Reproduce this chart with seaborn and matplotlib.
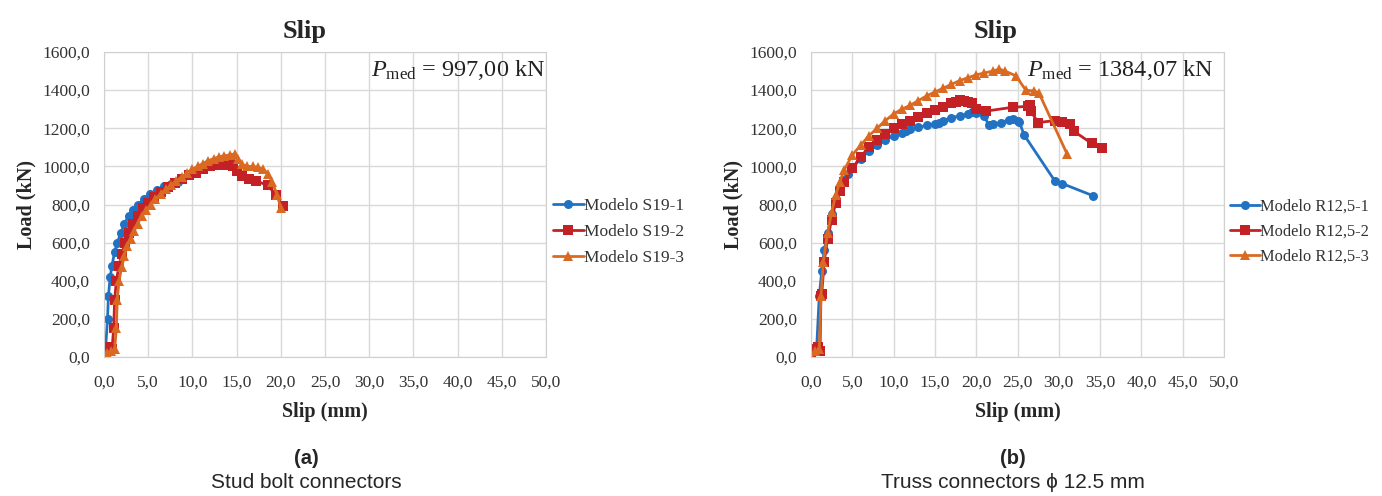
import seaborn as sns
import matplotlib.pyplot as plt
import pandas as pd

# slip (mm) / load (kN)
s19_1_slip = [0.0, 0.2, 0.4, 0.5, 0.7, 0.9, 1.2, 1.5, 1.9, 2.3, 2.8, 3.3, 3.9, 4.5, 5.2, 6.0, 6.8, 7.6, 8.4]
s19_1_load = [0, 60, 200, 320, 420, 480, 550, 600, 650, 700, 740, 770, 800, 830, 855, 875, 895, 910, 920]

s19_2_slip = [0.0, 0.1, 0.5, 0.9, 1.1, 1.2, 1.4, 1.7, 2.0, 2.4, 2.8, 3.3, 3.8, 4.4, 5.0, 5.7, 6.4, 7.2, 8.0,
              8.8, 9.6, 10.4, 11.2, 12.0, 12.8, 13.6, 14.2, 14.6, 15.0, 15.6, 16.4, 17.2, 18.5, 19.5, 20.2]
s19_2_load = [0, 40, 50, 40, 150, 300, 400, 480, 540, 600, 650, 700, 740, 780, 810, 840, 865, 890, 915,
              935, 955, 965, 985, 1000, 1005, 1005, 1010, 1000, 975, 950, 935, 925, 900, 850, 790]

s19_3_slip = [0.0, 0.3, 0.8, 1.2, 1.4, 1.5, 1.7, 2.0, 2.3, 2.6, 3.0, 3.4, 3.8, 4.3, 4.8, 5.3, 5.8, 6.4, 7.0,
              7.6, 8.2, 8.8, 9.4, 10.0, 10.6, 11.2, 11.8, 12.4, 13.0, 13.6, 14.2, 14.8, 15.2, 15.6, 16.2,
              16.8, 17.4, 18.0, 18.6, 19.0, 19.6, 20.0]
s19_3_load = [0, 20, 30, 40, 150, 300, 400, 470, 530, 580, 620, 660, 700, 740, 770, 800, 830, 855, 880,
              900, 925, 945, 965, 985, 1000, 1015, 1030, 1040, 1050, 1055, 1060, 1065, 1040, 1010, 1000,
              1000, 995, 985, 960, 920, 850, 780]

r125_1_slip = [0.0, 0.3, 0.7, 1.0, 1.3, 1.6, 2.0, 2.5, 3.0, 3.5, 4.0, 4.5, 5.0, 6.0, 7.0, 8.0, 9.0, 10.0,
               11.0, 11.5, 12.0, 13.0, 14.0, 15.0, 15.5, 16.0, 17.0, 18.0, 19.0, 19.5, 20.0, 21.0, 21.5,
               22.0, 23.0, 24.0, 24.5, 25.0, 25.2, 25.8, 29.5, 30.4, 34.2]
r125_1_load = [0, 40, 60, 320, 450, 560, 650, 750, 830, 890, 930, 960, 990, 1040, 1080, 1110, 1140, 1160,
               1175, 1185, 1195, 1205, 1215, 1222, 1230, 1240, 1255, 1265, 1275, 1285, 1280, 1265, 1215,
               1220, 1230, 1245, 1250, 1240, 1235, 1165, 925, 910, 845]

r125_2_slip = [0.0, 0.3, 0.8, 1.1, 1.2, 1.3, 1.6, 2.0, 2.5, 3.0, 3.5, 4.0, 5.0, 6.0, 7.0, 8.0, 9.0, 10.0,
               11.0, 12.0, 13.0, 14.0, 15.0, 16.0, 17.0, 17.5, 18.0, 18.5, 19.0, 19.5, 20.0, 21.2, 24.4,
               26.3, 26.5, 26.6, 27.5, 29.5, 30.4, 31.3, 31.8, 34.0, 35.2]
r125_2_load = [0, 40, 50, 30, 320, 330, 500, 620, 720, 810, 870, 920, 990, 1050, 1100, 1140, 1170, 1200,
               1220, 1240, 1260, 1280, 1295, 1310, 1330, 1340, 1350, 1345, 1340, 1330, 1300, 1290, 1310,
               1315, 1320, 1290, 1230, 1240, 1235, 1220, 1185, 1120, 1095]

r125_3_slip = [0.0, 0.5, 1.0, 1.2, 1.5, 2.0, 2.5, 3.0, 3.5, 4.0, 5.0, 6.0, 7.0, 8.0, 9.0, 10.0, 11.0, 12.0,
               13.0, 14.0, 15.0, 16.0, 17.0, 18.0, 19.0, 20.0, 21.0, 22.0, 22.8, 23.5, 24.8, 26.0, 27.0,
               27.6, 31.0]
r125_3_load = [0, 30, 40, 320, 500, 650, 760, 850, 920, 980, 1060, 1110, 1160, 1200, 1240, 1275, 1300,
               1320, 1345, 1370, 1390, 1410, 1430, 1450, 1465, 1480, 1490, 1500, 1510, 1500, 1475, 1400,
               1395, 1385, 1065]

left_names = ["Modelo S19-1", "Modelo S19-2", "Modelo S19-3"]
right_names = ["Modelo R12,5-1", "Modelo R12,5-2", "Modelo R12,5-3"]
colors = ["#2272C3", "#C42127", "#DA6A22"]
x_ticks = list(range(0, 55, 5))
y_ticks = list(range(0, 1800, 200))


def long_table(names, series):
    parts = []
    for name, (xs, ys) in zip(names, series):
        parts.append(pd.DataFrame({"slip": xs, "load": ys, "model": name}))
    return pd.concat(parts, ignore_index=True)


left_df = long_table(left_names, [(s19_1_slip, s19_1_load), (s19_2_slip, s19_2_load), (s19_3_slip, s19_3_load)])
right_df = long_table(right_names, [(r125_1_slip, r125_1_load), (r125_2_slip, r125_2_load), (r125_3_slip, r125_3_load)])

sns.set_style("whitegrid")
plt.rcParams["font.family"] = ["Liberation Serif", "DejaVu Serif"]
plt.rcParams["mathtext.fontset"] = "custom"
plt.rcParams["mathtext.rm"] = "Liberation Serif"
plt.rcParams["mathtext.it"] = "Liberation Serif:italic"

W, H = 1382, 496
fig = plt.figure(figsize=(13.82, 4.96), dpi=100)
ax1 = fig.add_axes([104 / W, 1 - 357 / H, 442 / W, 305 / H])
ax2 = fig.add_axes([811 / W, 1 - 357 / H, 413 / W, 305 / H])


def draw(ax, df, names, pmed, pmed_x, title_x, leg_size, caption_x, caption_a, caption_b):
    sns.lineplot(data=df, x="slip", y="load", hue="model", style="model", hue_order=names,
                 style_order=names, markers=["o", "s", "^"], dashes=False, sort=False,
                 estimator=None, palette=colors, linewidth=2.0, markersize=6.5,
                 markeredgewidth=0, ax=ax)
    ax.set_xlim(0, 50)
    ax.set_ylim(0, 1600)
    ax.set_xticks(x_ticks)
    ax.set_yticks(y_ticks)
    ax.set_xticklabels([f"{v:.1f}".replace(".", ",") for v in x_ticks], fontsize=12.5, color="#333333")
    ax.set_yticklabels([f"{v:.1f}".replace(".", ",") for v in y_ticks], fontsize=12.5, color="#333333")
    ax.grid(color="#d9d9d9", linewidth=1.0)
    for sp in ax.spines.values():
        sp.set_color("#d0d0d0")
    ax.tick_params(axis="x", length=0, pad=13)
    ax.tick_params(axis="y", length=0, pad=10)
    ax.set_title("Slip", fontsize=19, fontweight="bold", pad=10, x=title_x)
    ax.set_xlabel("Slip (mm)", fontsize=14.5, fontweight="bold", labelpad=8)
    ax.set_ylabel("Load (kN)", fontsize=14.5, fontweight="bold", labelpad=4)
    ax.text(pmed_x, 0.94, r"$P_{\mathrm{med}}$ = " + pmed, transform=ax.transAxes,
            ha="right", va="center", fontsize=17.5, color="#222222")
    leg = ax.legend(loc="center left", bbox_to_anchor=(0.98, 0.41), frameon=False,
                    fontsize=leg_size, handlelength=1.8, handletextpad=0.0, labelspacing=0.55)
    for t in leg.get_texts():
        t.set_color("#333333")
    fig.text(caption_x / W, 1 - 458 / H, caption_a, ha="center", va="center", fontsize=14.5,
             fontweight="bold", family=["Liberation Sans", "DejaVu Sans"])
    fig.text(caption_x / W, 1 - 482 / H, caption_b, ha="center", va="center", fontsize=15,
             family=["Liberation Sans", "DejaVu Sans"])


draw(ax1, left_df, left_names, "997,00 kN", 0.998, 0.455, 12.5, 306, "(a)", "Stud bolt connectors")
draw(ax2, right_df, right_names, "1384,07 kN", 0.975, 0.446, 11.8, 1013, "(b)", "Truss connectors ϕ 12.5 mm")

fig.savefig("out.png", dpi=100)
